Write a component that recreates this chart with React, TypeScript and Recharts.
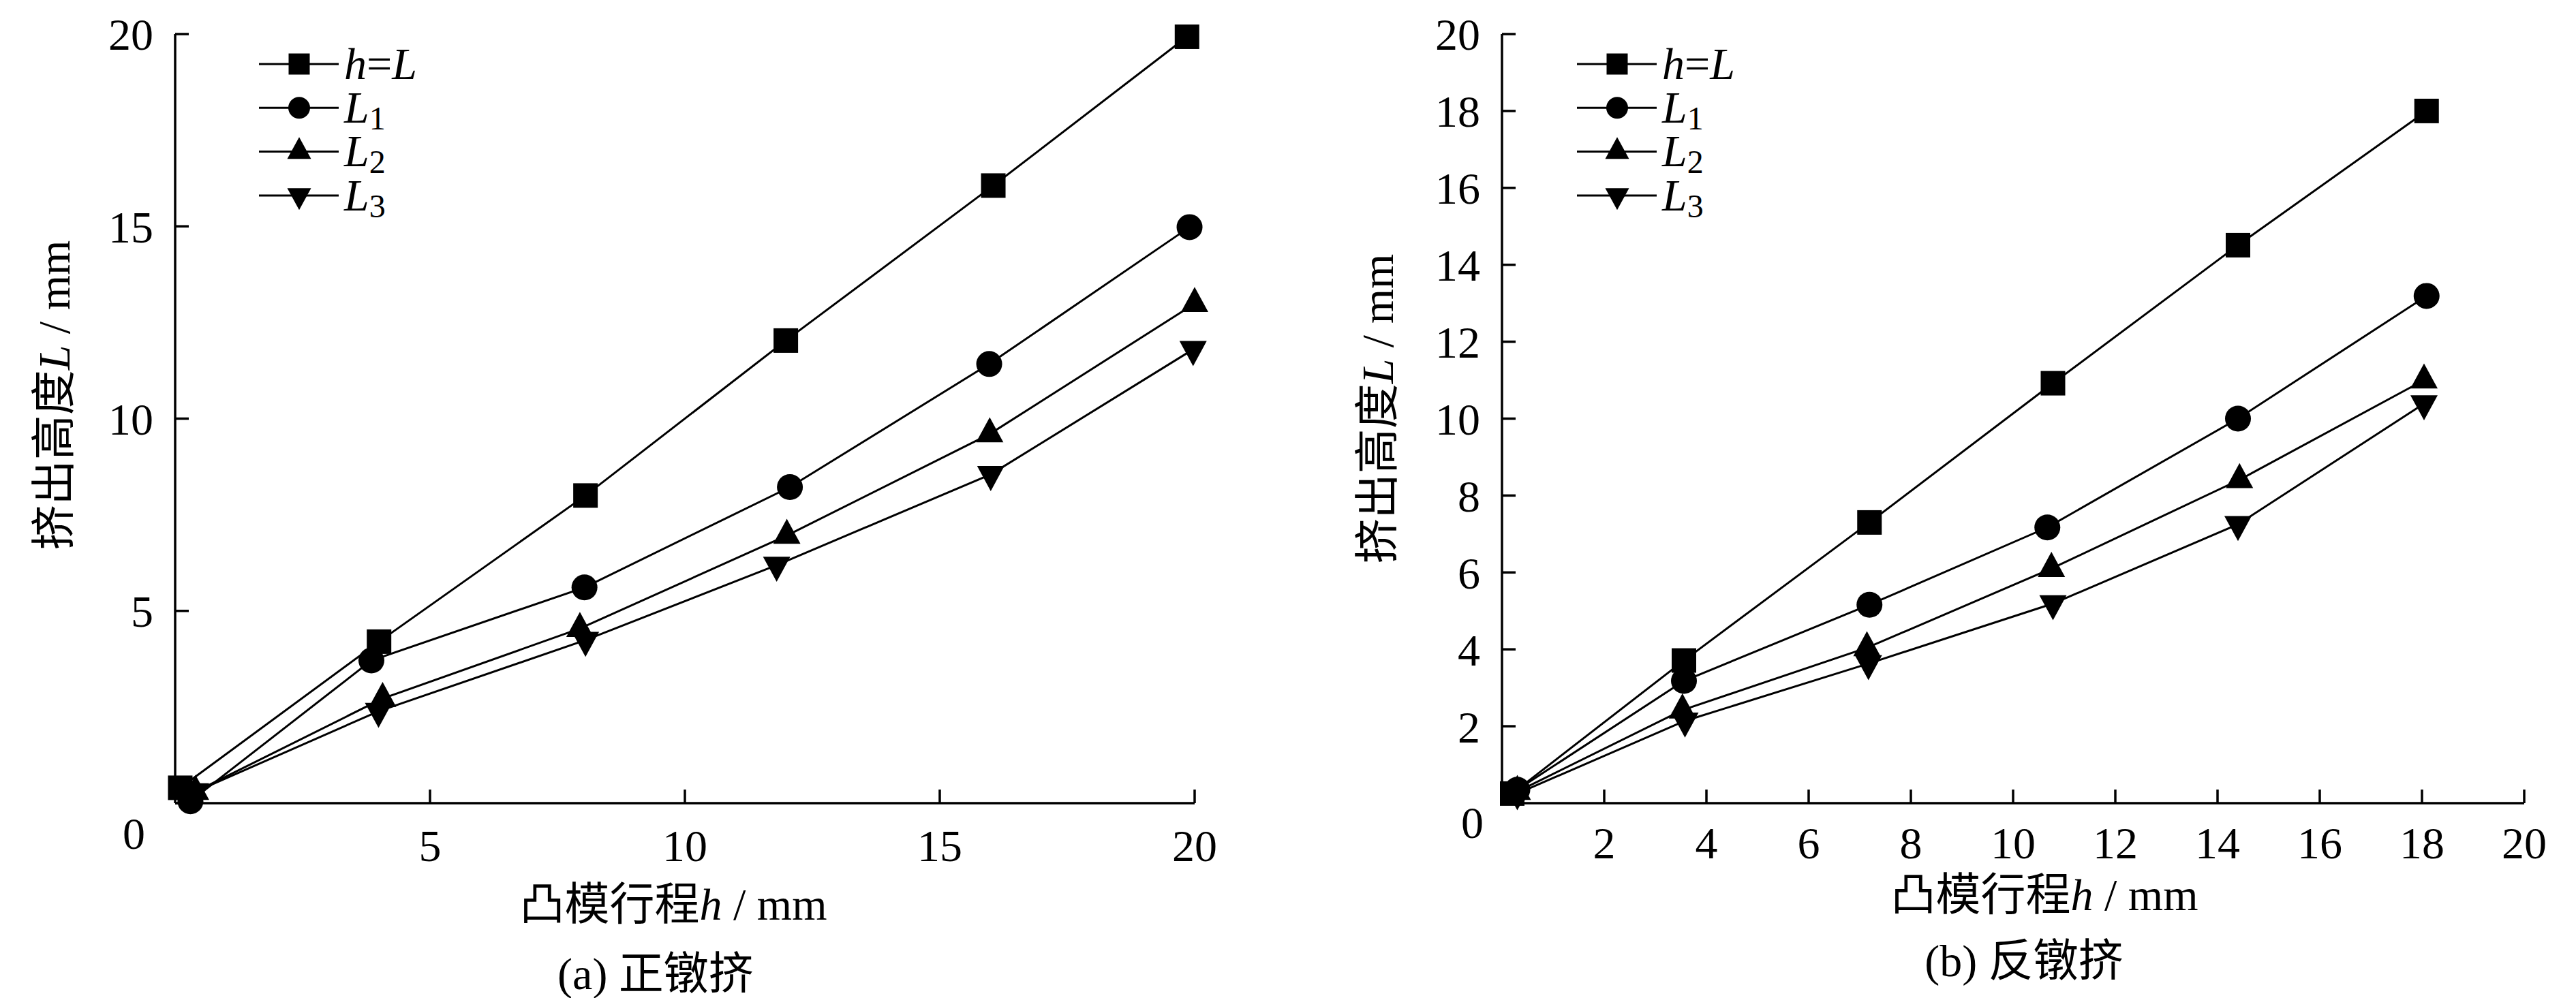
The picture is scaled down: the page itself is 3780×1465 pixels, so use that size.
import React from 'react';
import { LineChart, Line, XAxis, YAxis, Legend } from 'recharts';

const FONT = "'Liberation Serif', 'Times New Roman', 'Noto Sans CJK SC', serif";
const FS = 66;

// ---- series names / legend ----
const SERIES = ['h=L', 'L1', 'L2', 'L3'];
const KINDS = ['square', 'circle', 'up', 'down'];

// ---- chart (a) 正镦挤 ----
const A_X_TICKS = [5, 10, 15, 20];
const A_Y_TICKS = [0, 5, 10, 15, 20];
const A_H_HL = [0.1, 4.0, 8.05, 11.98, 16.05, 19.85];
const A_L_HL = [0.4, 4.2, 8.0, 12.03, 16.06, 19.93];
const A_H_L1 = [0.3, 3.85, 8.03, 12.06, 15.97, 19.9];
const A_L_L1 = [0.05, 3.71, 5.61, 8.22, 11.42, 14.98];
const A_H_L2 = [0.4, 4.07, 7.94, 12.0, 15.98, 20.0];
const A_L_L2 = [0.3, 2.72, 4.54, 6.96, 9.6, 12.99];
const A_H_L3 = [0.4, 3.99, 8.05, 11.8, 16.0, 19.97];
const A_L_L3 = [0.3, 2.39, 4.24, 6.19, 8.55, 11.8];

// ---- chart (b) 反镦挤 ----
const B_X_TICKS = [2, 4, 6, 8, 10, 12, 14, 16, 18, 20];
const B_Y_TICKS = [0, 2, 4, 6, 8, 10, 12, 14, 16, 18, 20];
const B_H_HL = [0.2, 3.56, 7.19, 10.78, 14.4, 18.09];
const B_L_HL = [0.25, 3.71, 7.3, 10.92, 14.51, 18.0];
const B_H_L1 = [0.3, 3.56, 7.19, 10.67, 14.4, 18.09];
const B_L_L1 = [0.35, 3.18, 5.16, 7.17, 10.0, 13.19];
const B_H_L2 = [0.3, 3.53, 7.14, 10.75, 14.43, 18.04];
const B_L_L2 = [0.3, 2.42, 4.04, 6.1, 8.41, 11.0];
const B_H_L3 = [0.3, 3.58, 7.17, 10.78, 14.4, 18.04];
const B_L_L3 = [0.25, 2.14, 3.63, 5.19, 7.25, 10.39];

const zip = (hs: number[], ls: number[]) => hs.map((h, i) => ({ h, L: ls[i] }));

const A_SERIES = [zip(A_H_HL, A_L_HL), zip(A_H_L1, A_L_L1), zip(A_H_L2, A_L_L2), zip(A_H_L3, A_L_L3)];
const B_SERIES = [zip(B_H_HL, B_L_HL), zip(B_H_L1, B_L_L1), zip(B_H_L2, B_L_L2), zip(B_H_L3, B_L_L3)];

function Marker({ cx, cy, kind, s }: { cx: number; cy: number; kind: string; s: number }) {
  if (cx == null || cy == null || isNaN(cx) || isNaN(cy)) return null;
  if (kind === 'square') return <rect x={cx - s / 2} y={cy - s / 2} width={s} height={s} fill="#000" />;
  if (kind === 'circle') return <circle cx={cx} cy={cy} r={s / 2} fill="#000" />;
  const h = s * 0.92;
  if (kind === 'up')
    return <polygon points={`${cx},${cy - (2 * h) / 3} ${cx - s / 2},${cy + h / 3} ${cx + s / 2},${cy + h / 3}`} fill="#000" />;
  return <polygon points={`${cx},${cy + (2 * h) / 3} ${cx - s / 2},${cy - h / 3} ${cx + s / 2},${cy - h / 3}`} fill="#000" />;
}

const CHART_MARKER_SIZE: Record<string, number> = { square: 36, circle: 38, up: 40, down: 40 };
const LEGEND_MARKER_SIZE: Record<string, number> = { square: 31, circle: 32, up: 35, down: 35 };

function LegendLabel({ name, x, y }: { name: string; x: number; y: number }) {
  if (name === 'h=L') {
    return (
      <text x={x} y={y} fontFamily={FONT} fontSize={FS} dy="0.33em" fill="#000">
        <tspan fontStyle="italic">h</tspan>
        <tspan>=</tspan>
        <tspan fontStyle="italic">L</tspan>
      </text>
    );
  }
  return (
    <text x={x} y={y} fontFamily={FONT} fontSize={FS} dy="0.33em" fill="#000">
      <tspan fontStyle="italic">L</tspan>
      <tspan fontSize={48} dy={10}>{name.slice(1)}</tspan>
    </text>
  );
}

function makeLegend() {
  return (props: any) => {
    const payload = [...(props.payload || [])].sort(
      (a: any, b: any) => SERIES.indexOf(a.value) - SERIES.indexOf(b.value)
    );
    return (
      <svg width={400} height={270} style={{ overflow: 'visible', display: 'block' }}>
        {payload.map((entry: any, i: number) => {
          const name = entry.value as string;
          const idx = SERIES.indexOf(name);
          const kind = KINDS[idx >= 0 ? idx : i];
          const y = 34 + i * 64.3;
          return (
            <g key={name}>
              <line x1={10} x2={127} y1={y} y2={y} stroke="#000" strokeWidth={3} />
              <Marker cx={69} cy={y} kind={kind} s={LEGEND_MARKER_SIZE[kind]} />
              <LegendLabel name={name} x={135} y={y} />
            </g>
          );
        })}
      </svg>
    );
  };
}

function makeYTick(zeroDx: number, zeroDy: number) {
  return (props: any) => {
    const { x, y, payload } = props;
    const isZero = payload.value === 0;
    return (
      <text
        x={x + (isZero ? zeroDx : 0)}
        y={y + (isZero ? zeroDy : 0)}
        textAnchor="end"
        dy="0.355em"
        fontFamily={FONT}
        fontSize={FS}
        fill="#000"
      >
        {payload.value}
      </text>
    );
  };
}

function makeXTick(dyExtra: number) {
  return (props: any) => {
    const { x, y, payload } = props;
    return (
      <text x={x} y={y + dyExtra} textAnchor="middle" dy="0.71em" fontFamily={FONT} fontSize={FS} fill="#000">
        {payload.value}
      </text>
    );
  };
}

const AXIS_STYLE = { stroke: '#000', strokeWidth: 3.5 };

function Panel({
  width,
  marginLeft,
  marginRight,
  series,
  xTicks,
  yTicks,
  zeroDx,
  zeroDy,
  xTickDy,
  legendLeft,
}: {
  width: number;
  marginLeft: number;
  marginRight: number;
  series: { h: number; L: number }[][];
  xTicks: number[];
  yTicks: number[];
  zeroDx: number;
  zeroDy: number;
  xTickDy: number;
  legendLeft: number;
}) {
  return (
    <LineChart
      width={width}
      height={1465}
      margin={{ top: 50, right: marginRight, bottom: 186, left: marginLeft }}
      style={{ overflow: 'visible' }}
    >
      <XAxis
        type="number"
        dataKey="h"
        domain={[0, 20]}
        ticks={xTicks}
        interval={0}
        height={100}
        axisLine={AXIS_STYLE}
        tickLine={AXIS_STYLE}
        tickSize={-20}
        tickMargin={58}
        tick={makeXTick(xTickDy)}
      />
      <YAxis
        type="number"
        dataKey="L"
        domain={[0, 20]}
        ticks={yTicks}
        interval={0}
        width={100}
        axisLine={AXIS_STYLE}
        tickLine={AXIS_STYLE}
        tickSize={-20}
        tickMargin={52}
        tick={makeYTick(zeroDx, zeroDy)}
      />
      <Legend
        layout="vertical"
        align="center"
        verticalAlign="middle"
        itemSorter={null as any}
        wrapperStyle={{ left: legendLeft, top: 60, width: 400, height: 270 }}
        content={makeLegend()}
      />
      {series.map((data, i) => (
        <Line
          key={SERIES[i]}
          name={SERIES[i]}
          data={data}
          dataKey="L"
          type="linear"
          stroke="#000"
          strokeWidth={3}
          isAnimationActive={false}
          activeDot={false}
          dot={(p: any) => (
            <Marker key={`${SERIES[i]}-${p.index}`} cx={p.cx} cy={p.cy} kind={KINDS[i]} s={CHART_MARKER_SIZE[KINDS[i]]} />
          )}
        />
      ))}
    </LineChart>
  );
}

const textBase: React.CSSProperties = {
  position: 'absolute',
  fontFamily: FONT,
  fontSize: FS,
  lineHeight: 1,
  whiteSpace: 'nowrap',
  color: '#000',
};

function Centered({ x, y, rotate, children }: { x: number; y: number; rotate?: boolean; children: React.ReactNode }) {
  return (
    <div
      style={{
        ...textBase,
        left: x,
        top: y,
        transform: `translate(-50%, -50%)${rotate ? ' rotate(-90deg)' : ''}`,
      }}
    >
      {children}
    </div>
  );
}

const XLabel = () => (
  <span>
    凸模行程<i>h</i> / mm
  </span>
);
const YLabel = () => (
  <span>
    挤出高度<i>L</i> / mm
  </span>
);

export default function App() {
  return (
    <div style={{ position: 'absolute', left: 0, top: 0, width: 3780, height: 1465, background: '#fff', overflow: 'hidden' }}>
      <div style={{ position: 'absolute', left: 0, top: 0 }}>
        <Panel
          width={1800}
          marginLeft={157}
          marginRight={47}
          series={A_SERIES}
          xTicks={A_X_TICKS}
          yTicks={A_Y_TICKS}
          zeroDx={-12}
          zeroDy={44}
          xTickDy={0}
          legendLeft={370}
        />
      </div>
      <div style={{ position: 'absolute', left: 1890, top: 0 }}>
        <Panel
          width={1890}
          marginLeft={214}
          marginRight={76}
          series={B_SERIES}
          xTicks={B_X_TICKS}
          yTicks={B_Y_TICKS}
          zeroDx={5}
          zeroDy={28}
          xTickDy={-4}
          legendLeft={414}
        />
      </div>
      <Centered x={988} y={1328}>
        <XLabel />
      </Centered>
      <Centered x={962} y={1430}>
        (a) 正镦挤
      </Centered>
      <Centered x={80} y={580} rotate>
        <YLabel />
      </Centered>
      <Centered x={3000} y={1314}>
        <XLabel />
      </Centered>
      <Centered x={2970} y={1411}>
        (b) 反镦挤
      </Centered>
      <Centered x={2022} y={600} rotate>
        <YLabel />
      </Centered>
    </div>
  );
}
